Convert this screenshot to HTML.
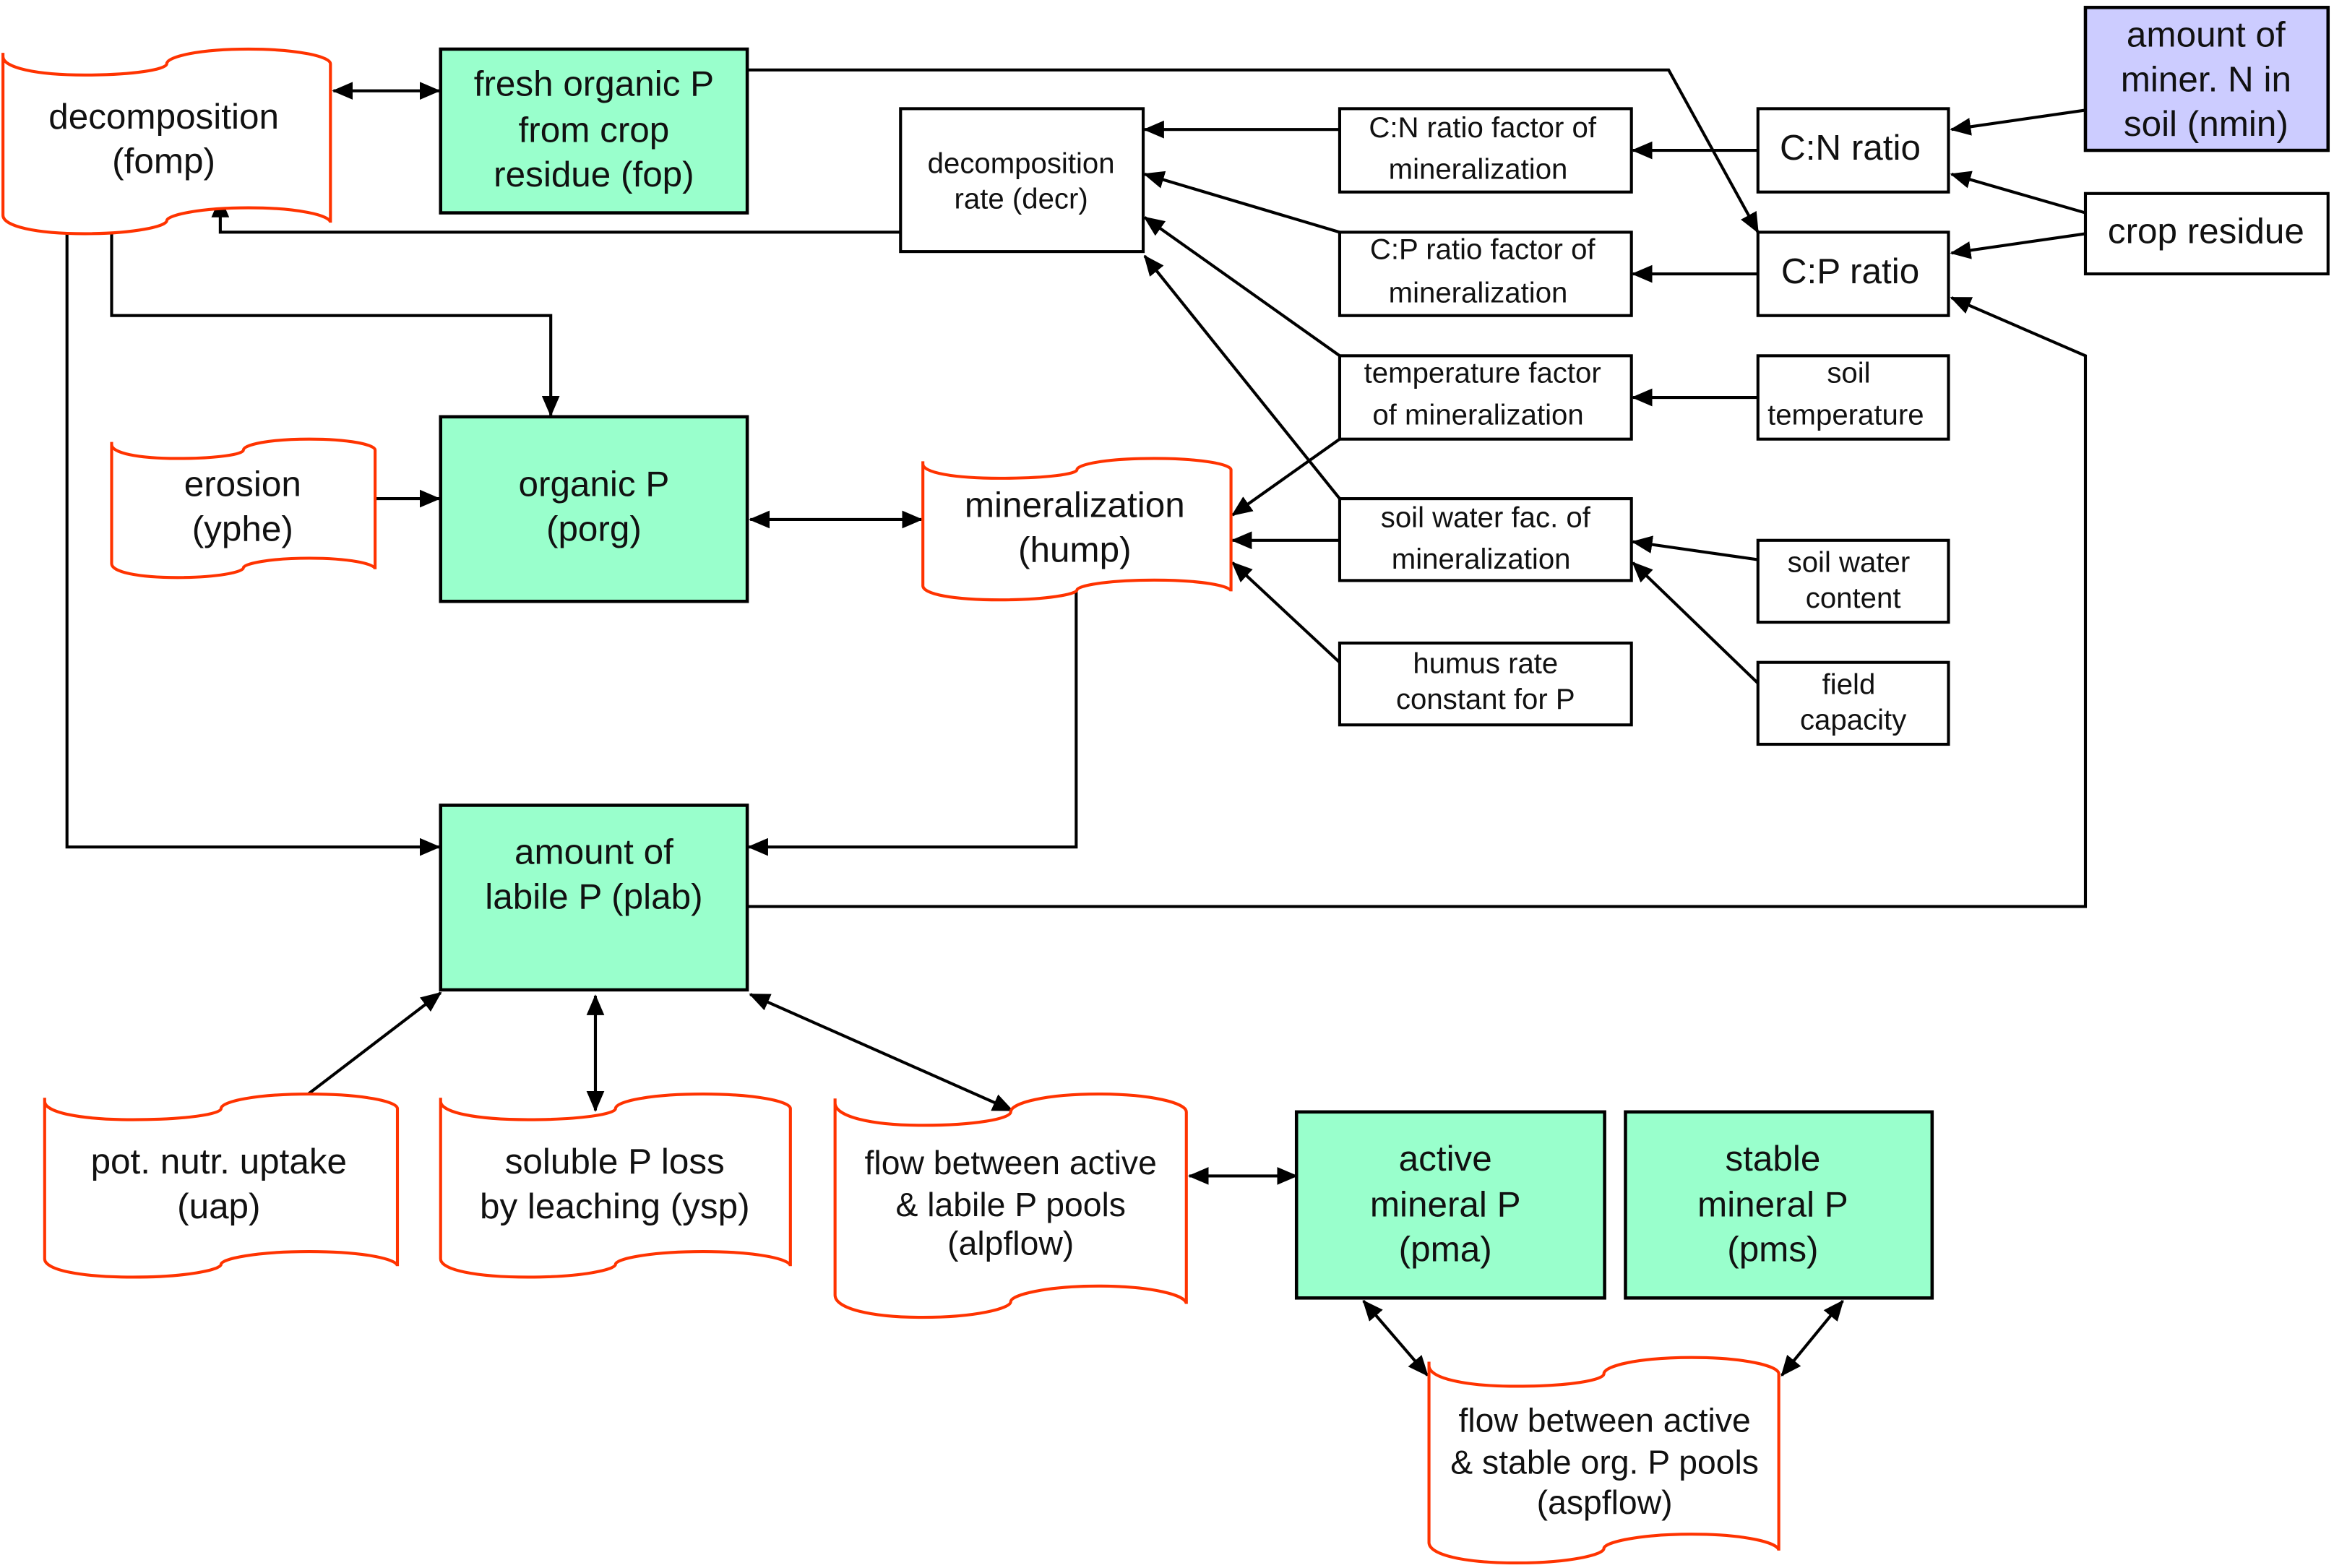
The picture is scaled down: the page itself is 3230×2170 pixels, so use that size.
<!DOCTYPE html>
<html><head><meta charset="utf-8"><style>
html,body{margin:0;padding:0;background:#fff;}
svg{display:block;}
text{font-family:"Liberation Sans",Arial,sans-serif;fill:#111;text-anchor:middle;dominant-baseline:middle;}
.t{fill:#fff;stroke:#ff3300;stroke-width:2;}
.g{fill:#99ffcc;stroke:#000;stroke-width:2.2;}
.w{fill:#fff;stroke:#000;stroke-width:2;}
.l{fill:none;stroke:#000;stroke-width:2;}
</style></head><body>
<svg width="3230" height="2170" viewBox="0 0 1568 1053.4" preserveAspectRatio="none" xmlns="http://www.w3.org/2000/svg">
<defs>
<marker id="a" markerUnits="userSpaceOnUse" markerWidth="14" markerHeight="12" refX="13" refY="6" orient="auto-start-reverse"><path d="M0,0 L14,6 L0,12 Z" fill="#000"/></marker>
</defs>

<!-- connectors -->
<g class="l" marker-end="url(#a)">
<line x1="224" y1="61" x2="295" y2="61" marker-start="url(#a)"/>
<polyline points="502,47 1121,47 1181,156"/>
<polyline points="605,156 148,156 148,133"/>
<polyline points="75,157 75,212 370,212 370,279"/>
<polyline points="45,157 45,569 295,569"/>
<line x1="252" y1="335" x2="295" y2="335"/>
<line x1="504" y1="349" x2="619" y2="349" marker-start="url(#a)"/>
<polyline points="723,393 723,569 503,569"/>
<polyline points="502,609 1401,609 1401,239 1311,200"/>
<line x1="900" y1="87" x2="769" y2="87"/>
<line x1="900" y1="156" x2="769" y2="117"/>
<line x1="900" y1="239" x2="769" y2="146"/>
<line x1="900" y1="335" x2="769" y2="172"/>
<line x1="900" y1="295" x2="828" y2="346"/>
<line x1="900" y1="363" x2="828" y2="363"/>
<line x1="900" y1="445" x2="828" y2="378"/>
<line x1="1181" y1="101" x2="1097" y2="101"/>
<line x1="1181" y1="184" x2="1097" y2="184"/>
<line x1="1181" y1="267" x2="1097" y2="267"/>
<line x1="1181" y1="376" x2="1097" y2="364"/>
<line x1="1181" y1="459" x2="1097" y2="378"/>
<line x1="1401" y1="74" x2="1311" y2="87"/>
<line x1="1401" y1="143" x2="1311" y2="117"/>
<line x1="1401" y1="157" x2="1311" y2="170"/>
<line x1="207" y1="735" x2="296" y2="667"/>
<line x1="400" y1="669" x2="400" y2="746" marker-start="url(#a)"/>
<line x1="504" y1="668" x2="680" y2="746" marker-start="url(#a)"/>
<line x1="799" y1="790" x2="871" y2="790" marker-start="url(#a)"/>
<line x1="916" y1="874" x2="959" y2="924" marker-start="url(#a)"/>
<line x1="1238" y1="874" x2="1197" y2="924" marker-start="url(#a)"/>
</g>

<!-- tapes -->
<path class="t" d="M2,35.5 L2,144.6 C2,152 24,157 57,157 C90,157 112,152 112,148.3 C112,144.6 134,139.6 167,139.6 C200,139.6 222,144.6 222,149.6 L222,42.9 C222,38 200,33 167,33 C134,33 112,38 112,42.9 C112,46.6 90,50.4 57,50.4 C24,50.4 2,45.4 2,38 Z"/>
<path class="t" d="M75,296.9 L75,378.7 C75,384.3 92.7,388 119.3,388 C145.8,388 163.5,384.3 163.5,381.5 C163.5,378.7 181.2,375 207.8,375 C234.3,375 252,378.7 252,382.4 L252,302.4 C252,298.7 234.3,295 207.8,295 C181.2,295 163.5,298.7 163.5,302.4 C163.5,305.2 145.8,308 119.3,308 C92.7,308 75,304.3 75,298.7 Z"/>
<path class="t" d="M620,309.9 L620,393.5 C620,399.2 640.7,403 671.8,403 C702.8,403 723.5,399.2 723.5,396.4 C723.5,393.5 744.2,389.7 775.3,389.7 C806.3,389.7 827,393.5 827,397.3 L827,315.6 C827,311.8 806.3,308 775.3,308 C744.2,308 723.5,311.8 723.5,315.6 C723.5,318.5 702.8,321.3 671.8,321.3 C640.7,321.3 620,317.5 620,311.8 Z"/>
<path class="t" d="M30,737.5 L30,845.7 C30,853.1 53.7,858 89.3,858 C124.8,858 148.5,853.1 148.5,849.4 C148.5,845.7 172.2,840.8 207.8,840.8 C243.3,840.8 267,845.7 267,850.6 L267,744.8 C267,739.9 243.3,735 207.8,735 C172.2,735 148.5,739.9 148.5,744.8 C148.5,748.5 124.8,752.2 89.3,752.2 C53.7,752.2 30,747.3 30,739.9 Z"/>
<path class="t" d="M296,737.5 L296,845.7 C296,853.1 319.5,858 354.8,858 C390,858 413.5,853.1 413.5,849.4 C413.5,845.7 437,840.8 472.3,840.8 C507.5,840.8 531,845.7 531,850.6 L531,744.8 C531,739.9 507.5,735 472.3,735 C437,735 413.5,739.9 413.5,744.8 C413.5,748.5 390,752.2 354.8,752.2 C319.5,752.2 296,747.3 296,739.9 Z"/>
<path class="t" d="M561,738 L561,870 C561,879 584.6,885 620,885 C655.4,885 679,879 679,874.5 C679,870 702.6,864 738,864 C773.4,864 797,870 797,876 L797,747 C797,741 773.4,735 738,735 C702.6,735 679,741 679,747 C679,751.5 655.4,756 620,756 C584.6,756 561,750 561,741 Z"/>
<path class="t" d="M960,914.8 L960,1036.2 C960,1044.5 983.5,1050 1018.8,1050 C1054,1050 1077.5,1044.5 1077.5,1040.3 C1077.5,1036.2 1101,1030.7 1136.3,1030.7 C1171.5,1030.7 1195,1036.2 1195,1041.7 L1195,923 C1195,917.5 1171.5,912 1136.3,912 C1101,912 1077.5,917.5 1077.5,923 C1077.5,927.2 1054,931.3 1018.8,931.3 C983.5,931.3 960,925.8 960,917.5 Z"/>

<!-- boxes -->
<rect class="g" x="296" y="33" width="206" height="110"/>
<rect class="g" x="296" y="280" width="206" height="124"/>
<rect class="g" x="296" y="541" width="206" height="124"/>
<rect class="g" x="871" y="747" width="207" height="125"/>
<rect class="g" x="1092" y="747" width="206" height="125"/>
<rect x="1401" y="5" width="163" height="96" fill="#ccccff" stroke="#000" stroke-width="2.2"/>
<rect class="w" x="605" y="73" width="163" height="96"/>
<rect class="w" x="900" y="73" width="196" height="56"/>
<rect class="w" x="900" y="156" width="196" height="56"/>
<rect class="w" x="900" y="239" width="196" height="56"/>
<rect class="w" x="900" y="335" width="196" height="55"/>
<rect class="w" x="900" y="432" width="196" height="55"/>
<rect class="w" x="1181" y="73" width="128" height="56"/>
<rect class="w" x="1181" y="156" width="128" height="56"/>
<rect class="w" x="1181" y="239" width="128" height="56"/>
<rect class="w" x="1181" y="363" width="128" height="55"/>
<rect class="w" x="1181" y="445" width="128" height="55"/>
<rect class="w" x="1401" y="130" width="163" height="54"/>

<!-- text -->
<g font-size="24">
<text x="110" y="80">decomposition</text><text x="110" y="110">(fomp)</text>
<text x="399" y="58">fresh organic P</text><text x="399" y="89">from crop</text><text x="399" y="119">residue (fop)</text>
<text x="163" y="327">erosion</text><text x="163" y="357">(yphe)</text>
<text x="399" y="327">organic P</text><text x="399" y="357">(porg)</text>
<text x="722" y="341">mineralization</text><text x="722" y="371">(hump)</text>
<text x="399" y="574">amount of</text><text x="399" y="604">labile P (plab)</text>
<text x="147" y="782">pot. nutr. uptake</text><text x="147" y="812">(uap)</text>
<text x="413" y="782">soluble P loss</text><text x="413" y="812">by leaching (ysp)</text>
<text x="971" y="780">active</text><text x="971" y="811">mineral P</text><text x="971" y="841">(pma)</text>
<text x="1191" y="780">stable</text><text x="1191" y="811">mineral P</text><text x="1191" y="841">(pms)</text>
<text x="1243" y="101">C:N ratio</text><text x="1243" y="184">C:P ratio</text>
<text x="1482" y="25">amount of</text><text x="1482" y="55">miner. N in</text><text x="1482" y="85">soil (nmin)</text>
<text x="1482" y="157">crop residue</text>
</g>
<g font-size="22.5">
<text x="679" y="783">flow between active</text><text x="679" y="811">&amp; labile P pools</text><text x="679" y="837">(alpflow)</text>
<text x="1078" y="956">flow between active</text><text x="1078" y="984">&amp; stable org. P pools</text><text x="1078" y="1011">(aspflow)</text>
</g>
<g font-size="19.5">
<text x="686" y="111">decomposition</text><text x="686" y="135">rate (decr)</text>
<text x="996" y="87">C:N ratio factor of</text><text x="993" y="115">mineralization</text>
<text x="996" y="169">C:P ratio factor of</text><text x="993" y="198">mineralization</text>
<text x="996" y="252">temperature  factor</text><text x="993" y="280">of mineralization</text>
<text x="998" y="349">soil water fac. of</text><text x="995" y="377">mineralization</text>
<text x="998" y="447">humus rate</text><text x="998" y="471">constant for P</text>
<text x="1242" y="252">soil</text><text x="1240" y="280">temperature</text>
<text x="1242" y="379">soil water</text><text x="1245" y="403">content</text>
<text x="1242" y="461">field</text><text x="1245" y="485">capacity</text>
</g>
</svg>
</body></html>
